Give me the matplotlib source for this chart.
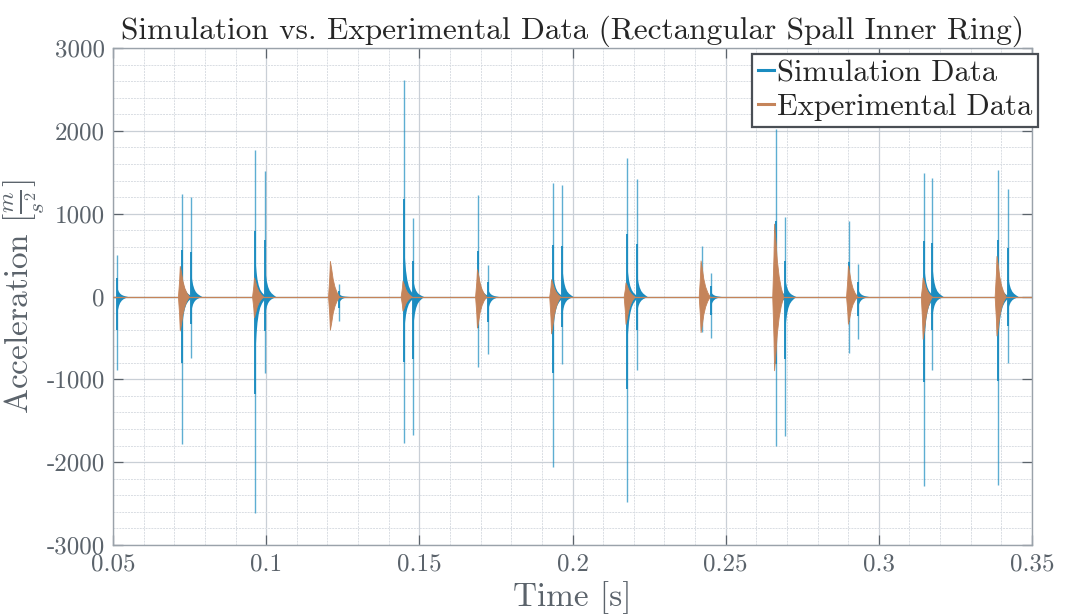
import numpy as np
import matplotlib
matplotlib.use("Agg")
import matplotlib.pyplot as plt
from matplotlib.lines import Line2D
from matplotlib.ticker import FuncFormatter, MultipleLocator

plt.rcParams['font.family'] = 'serif'
plt.rcParams['font.serif'] = ['cmr10']
plt.rcParams['mathtext.fontset'] = 'cm'
plt.rcParams['axes.unicode_minus'] = False
plt.rcParams['axes.formatter.use_mathtext'] = True

# --- valores (picos por impacto) ---
t_sim_main = [0.0513, 0.0724, 0.0965, 0.1210, 0.1450, 0.1693, 0.1935, 0.2178, 0.2423, 0.2663, 0.2904, 0.3148, 0.3389]
sim_main_pos = [505, 1240, 1770, 120, 2620, 1220, 1375, 1670, 610, 2020, 915, 1490, 1525]
sim_main_neg = [-890, -1780, -2610, -150, -1770, -855, -2060, -2480, -430, -1800, -680, -2290, -2280]

t_sim_sec = [0.0540, 0.0755, 0.0996, 0.1238, 0.1479, 0.1724, 0.1967, 0.2209, 0.2451, 0.2694, 0.2932, 0.3175, 0.3420]
sim_sec_pos = [0, 1200, 1510, 150, 950, 385, 1350, 1420, 280, 955, 395, 1435, 1295]
sim_sec_neg = [0, -740, -925, -300, -1670, -690, -820, -890, -500, -1690, -510, -890, -800]

t_exp = [0.0508, 0.0718, 0.0960, 0.1208, 0.1445, 0.1688, 0.1930, 0.2173, 0.2418, 0.2658, 0.2899, 0.3143, 0.3384]
exp_pos = [0, 370, 230, 430, 190, 330, 210, 170, 435, 880, 375, 230, 490]
exp_neg = [0, -410, -250, -400, -170, -375, -445, -330, -430, -890, -330, -510, -470]

ring_dt = [0.0, 0.0002, 0.0005, 0.0009, 0.0014, 0.0020, 0.0027, 0.0035]
ring_env = [0.22, 0.17, 0.12, 0.08, 0.05, 0.03, 0.015, 0.0]
exp_dt = [-0.0006, -0.0002, 0.0, 0.0004, 0.0009, 0.0015, 0.0022, 0.0030]
exp_env = [0.0, 0.55, 1.0, 0.8, 0.5, 0.28, 0.12, 0.0]

t_range = [0.05, 0.35]

BLUE = '#1a8cc0'
ORANGE = '#c5845a'
GREY = '#5b636b'

fig = plt.figure(figsize=(10.69, 6.16), dpi=100)
ax = fig.add_axes([0.1057, 0.1153, 0.8597, 0.8067])

# linhas de base
ax.plot(t_range, [0, 0], color=BLUE, lw=0.8, zorder=2)

ring_dt = np.array(ring_dt)
ring_env = np.array(ring_env)
for t, p, n in list(zip(t_sim_main, sim_main_pos, sim_main_neg)) + list(zip(t_sim_sec, sim_sec_pos, sim_sec_neg)):
    if p == 0 and n == 0:
        continue
    ax.vlines(t, n, p, color=BLUE, lw=1.0, alpha=0.7, zorder=3)
    ax.vlines(t, 0.45 * n, 0.45 * p, color=BLUE, lw=1.4, alpha=0.95, zorder=3)
    ax.fill_between(t + ring_dt, ring_env * n, ring_env * p, color=BLUE, lw=0, zorder=3)

ax.plot(t_range, [0, 0], color=ORANGE, lw=0.9, zorder=4)
exp_dt = np.array(exp_dt)
exp_env = np.array(exp_env)
for t, p, n in zip(t_exp, exp_pos, exp_neg):
    if p == 0 and n == 0:
        continue
    ax.fill_between(t + exp_dt, exp_env * n, exp_env * p, color=ORANGE, lw=0.6, edgecolor=ORANGE, zorder=4)

ax.set_xlim(0.05, 0.35)
ax.set_ylim(-3000, 3000)
ax.xaxis.set_major_locator(MultipleLocator(0.05))
ax.xaxis.set_minor_locator(MultipleLocator(0.01))
ax.yaxis.set_major_locator(MultipleLocator(1000))
ax.yaxis.set_minor_locator(MultipleLocator(200))
ax.xaxis.set_major_formatter(FuncFormatter(lambda v, p: '%g' % round(v, 3)))
ax.yaxis.set_major_formatter(FuncFormatter(lambda v, p: '%d' % v))

ax.grid(True, which='major', color='#c9cfd6', lw=0.9, ls='-')
ax.grid(True, which='minor', color='#d9dde3', lw=0.7, ls=(0, (2, 1)))
ax.set_axisbelow(True)

ax.tick_params(which='major', direction='in', length=7, width=0.9, colors=GREY,
               top=True, right=True, labelsize=18, pad=6)
ax.tick_params(which='minor', length=0)
for s in ax.spines.values():
    s.set_color('#9aa2aa')
    s.set_linewidth(1.0)

ax.set_title('Simulation vs. Experimental Data (Rectangular Spall Inner Ring)',
             fontsize=22.5, color='#262626', pad=7)
ax.set_xlabel('Time [s]', fontsize=24, color=GREY, labelpad=4)
ax.set_ylabel(r'Acceleration $[\frac{m}{s^2}]$', fontsize=24, color=GREY)
ax.yaxis.set_label_coords(-0.072, 0.5)

handles = [Line2D([], [], color=BLUE, lw=2.2), Line2D([], [], color=ORANGE, lw=2.2)]
leg = ax.legend(handles, ['Simulation Data', 'Experimental Data'], loc='upper right',
                bbox_to_anchor=(1.01, 0.995), fontsize=22, handlelength=0.5,
                handletextpad=0.1, borderpad=0.2, labelspacing=0.2,
                fancybox=False, framealpha=1, borderaxespad=0.1)
leg.get_frame().set_edgecolor('#4a4f55')
leg.get_frame().set_linewidth(1.6)
for txt in leg.get_texts():
    txt.set_color('#262626')

fig.savefig('out.png', dpi=100)
